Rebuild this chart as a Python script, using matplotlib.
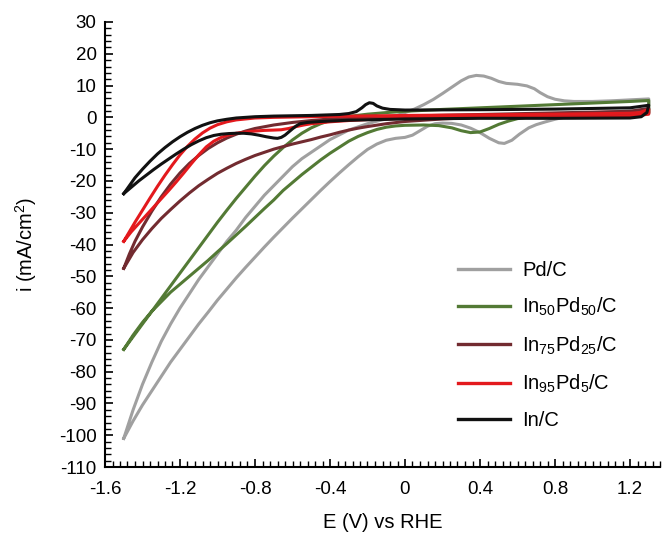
import matplotlib
matplotlib.use("Agg")
import matplotlib.pyplot as plt
from matplotlib.ticker import MultipleLocator, FixedLocator, FuncFormatter

plt.rcParams["font.family"] = ["Liberation Sans", "DejaVu Sans"]
plt.rcParams["mathtext.fontset"] = "custom"
plt.rcParams["mathtext.rm"] = "Liberation Sans"
plt.rcParams["mathtext.it"] = "Liberation Sans"
plt.rcParams["mathtext.default"] = "regular"

# ---- cyclic voltammograms: potential E (V vs RHE) and current density i (mA/cm2) ----
# Pd/C
pd_up_E = [-1.5, -1.45, -1.4, -1.35, -1.3, -1.25, -1.2, -1.15, -1.1, -1.05, -1.0, -0.95, -0.9,
           -0.85, -0.8, -0.75, -0.7, -0.65, -0.6, -0.55, -0.5, -0.45, -0.4, -0.35, -0.3, -0.25,
           -0.2, -0.15, -0.1, -0.05, 0.0, 0.05, 0.1, 0.15, 0.2, 0.25, 0.3, 0.34, 0.38, 0.42,
           0.46, 0.5, 0.54, 0.6, 0.65, 0.69, 0.72, 0.76, 0.8, 0.85, 0.9, 1.0, 1.1, 1.2, 1.3]
pd_up_i = [-101, -92, -84, -77, -70.5, -65, -60, -55.5, -51, -47, -43, -39, -35.5,
           -31.5, -28, -24.5, -21.5, -18.5, -15.5, -13, -11, -9, -7, -5.5, -4, -3,
           -2, -1.2, -0.5, 0.4, 1.5, 2.6, 4, 5.6, 7.5, 9.5, 11.5, 12.7, 13.2, 13,
           12.3, 11.3, 10.7, 10.4, 9.9, 9, 7.8, 6.5, 5.7, 5.2, 5.0, 5.0, 5.2, 5.5, 5.8]
pd_lo_E = [-1.5, -1.45, -1.4, -1.35, -1.3, -1.25, -1.2, -1.15, -1.1, -1.05, -1.0, -0.95, -0.9,
           -0.85, -0.8, -0.75, -0.7, -0.65, -0.6, -0.55, -0.5, -0.45, -0.4, -0.35, -0.3, -0.25,
           -0.2, -0.15, -0.1, -0.05, 0.0, 0.04, 0.08, 0.12, 0.16, 0.2, 0.25, 0.3, 0.35, 0.4,
           0.45, 0.5, 0.53, 0.57, 0.61, 0.66, 0.7, 0.75, 0.8, 0.86, 0.9, 1.0, 1.1, 1.2, 1.3]
pd_lo_i = [-101, -95.5, -90.5, -86, -81.5, -77, -73, -69, -65, -61.3, -57.5, -54, -50.5,
           -47.2, -44, -40.8, -37.7, -34.7, -31.7, -28.8, -25.9, -23, -20.2, -17.5, -14.9, -12.4,
           -10.1, -8.4, -7.2, -6.6, -6.3, -5.6, -4.2, -2.8, -2.0, -1.8, -1.9, -2.4, -3.4, -4.8,
           -6.6, -8.0, -8.2, -7.2, -5.3, -3.3, -2.3, -1.4, -0.6, 0.2, 0.8, 1.4, 1.7, 2.0, 2.5]

# In50Pd50/C
g_up_E = [-1.5, -1.45, -1.4, -1.35, -1.3, -1.25, -1.2, -1.15, -1.1, -1.05, -1.0, -0.95, -0.9,
          -0.85, -0.8, -0.75, -0.7, -0.65, -0.6, -0.55, -0.5, -0.45, -0.4, -0.35, -0.3, -0.2,
          -0.1, 0.0, 0.1, 0.2, 0.4, 0.6, 0.8, 1.0, 1.2, 1.3]
g_up_i = [-73, -69, -65, -61, -57, -53, -49, -45, -41, -37, -33, -29.2, -25.5,
          -22, -18.5, -15.2, -12.2, -9.5, -7.1, -5, -3.3, -2, -1, -0.3, 0.3, 1,
          1.5, 1.9, 2.2, 2.5, 3, 3.5, 4, 4.5, 5, 5.3]
g_lo_E = [-1.5, -1.45, -1.4, -1.35, -1.3, -1.25, -1.2, -1.15, -1.1, -1.05, -1.0, -0.95, -0.9,
          -0.85, -0.8, -0.75, -0.7, -0.65, -0.6, -0.55, -0.5, -0.45, -0.4, -0.35, -0.3, -0.25,
          -0.2, -0.15, -0.1, -0.05, 0.0, 0.1, 0.18, 0.25, 0.3, 0.35, 0.4, 0.45, 0.5, 0.55,
          0.6, 0.7, 0.8, 0.9, 1.1, 1.3]
g_lo_i = [-73, -68.5, -64.5, -61, -58, -55, -52.5, -50, -47.5, -45, -42.3, -39.7, -37,
          -34.3, -31.5, -28.7, -26, -23, -20.5, -18, -15.7, -13.4, -11.3, -9.4, -7.5, -6,
          -4.8, -3.8, -3.1, -2.7, -2.5, -2.4, -2.6, -3.3, -4.2, -4.8, -4.6, -3.5, -2.2, -1.2,
          -0.4, 0.4, 0.8, 1.0, 1.2, 1.5]

# In75Pd25/C
m_up_E = [-1.5, -1.47, -1.44, -1.4, -1.35, -1.3, -1.25, -1.2, -1.15, -1.1, -1.05, -1.0, -0.95,
          -0.9, -0.85, -0.8, -0.7, -0.6, -0.5, -0.4, -0.3, -0.2, 0.0, 0.4, 0.8, 1.2, 1.3]
m_up_i = [-47.5, -43, -39, -34.5, -29.5, -25, -21, -17.5, -14.5, -12, -9.8, -8, -6.5,
          -5.3, -4.3, -3.5, -2.4, -1.6, -1, -0.5, -0.2, 0, 0.4, 0.9, 1.4, 1.9, 2.8]
m_lo_E = [-1.5, -1.45, -1.4, -1.35, -1.3, -1.25, -1.2, -1.15, -1.1, -1.05, -1.0, -0.95, -0.9,
          -0.85, -0.8, -0.75, -0.7, -0.65, -0.6, -0.55, -0.5, -0.45, -0.4, -0.35, -0.3, -0.25,
          -0.2, -0.1, 0.0, 0.1, 0.2, 0.4, 0.8, 1.2, 1.3]
m_lo_i = [-47.5, -42.5, -38.5, -35, -31.8, -29, -26.3, -23.8, -21.5, -19.5, -17.6, -16, -14.5,
          -13.2, -12, -11, -10, -9.2, -8.4, -7.7, -7, -6.2, -5.5, -4.7, -4, -3.4,
          -2.9, -2, -1.3, -0.9, -0.5, 0, 0.5, 0.9, 1.2]

# In95Pd5/C
r_up_E = [-1.5, -1.47, -1.44, -1.4, -1.36, -1.32, -1.28, -1.24, -1.2, -1.16, -1.12, -1.08, -1.04,
          -1.0, -0.95, -0.9, -0.8, -0.7, -0.4, 0.0, 0.4, 0.8, 1.2, 1.25, 1.3]
r_up_i = [-39, -36, -33, -29.2, -25.4, -21.7, -18.2, -14.9, -11.8, -9.1, -6.8, -4.9, -3.4,
          -2.3, -1.4, -0.8, -0.2, 0, 0.3, 0.6, 0.8, 1.0, 1.3, 1.5, 2.5]
r_lo_E = [-1.5, -1.46, -1.42, -1.38, -1.34, -1.3, -1.26, -1.22, -1.18, -1.14, -1.1, -1.06, -1.02,
          -0.98, -0.94, -0.9, -0.85, -0.8, -0.75, -0.7, -0.66, -0.62, -0.58, -0.54, -0.5, -0.4,
          -0.3, -0.2, 0.0, 0.4, 0.8, 1.2, 1.3]
r_lo_i = [-39, -36, -33.4, -30.8, -28.2, -25.6, -23, -20.3, -17.5, -14.6, -11.8, -9.3, -7.5,
          -6.3, -5.5, -5.0, -4.6, -4.3, -4.1, -4.0, -3.9, -3.5, -2.9, -2.4, -2.0, -1.4,
          -1.0, -0.7, -0.3, 0, 0, 0.3, 1.0]

# In/C
k_up_E = [-1.5, -1.47, -1.44, -1.4, -1.36, -1.32, -1.28, -1.24, -1.2, -1.16, -1.12, -1.08, -1.04,
          -1.0, -0.95, -0.9, -0.8, -0.7, -0.5, -0.35, -0.3, -0.26, -0.23, -0.21, -0.19, -0.17,
          -0.15, -0.12, -0.08, 0.0, 0.4, 0.8, 1.2, 1.3]
k_up_i = [-24, -21.5, -19, -16.3, -13.8, -11.5, -9.5, -7.7, -6.1, -4.7, -3.5, -2.5, -1.7,
          -1.1, -0.6, -0.2, 0.2, 0.4, 0.6, 0.9, 1.2, 1.8, 3.0, 4.0, 4.6, 4.4,
          3.6, 2.9, 2.5, 2.3, 2.4, 2.6, 3.0, 3.8]
k_lo_E = [-1.5, -1.46, -1.42, -1.38, -1.34, -1.3, -1.26, -1.22, -1.18, -1.14, -1.1, -1.06, -1.02,
          -0.98, -0.94, -0.9, -0.86, -0.82, -0.78, -0.74, -0.7, -0.68, -0.66, -0.64, -0.62, -0.6,
          -0.58, -0.56, -0.52, -0.45, -0.3, 0.0, 0.4, 0.8, 1.2, 1.26, 1.29, 1.3]
k_lo_i = [-24, -22, -20, -18.2, -16.4, -14.7, -13.1, -11.5, -10.0, -8.6, -7.4, -6.4, -5.7,
          -5.3, -5.1, -5.0, -5.0, -5.2, -5.6, -6.1, -6.5, -6.6, -6.3, -5.6, -4.6, -3.6,
          -2.7, -2.0, -1.6, -1.3, -0.9, -0.5, -0.3, -0.3, -0.2, 0.2, 1.5, 3.8]

labels = ["Pd/C", "In$_{50}$Pd$_{50}$/C", "In$_{75}$Pd$_{25}$/C", "In$_{95}$Pd$_{5}$/C", "In/C"]
colors = ["#a0a0a0", "#537a35", "#722b30", "#e3191d", "#111111"]
curves = [
    (pd_up_E, pd_up_i, pd_lo_E, pd_lo_i),
    (g_up_E, g_up_i, g_lo_E, g_lo_i),
    (m_up_E, m_up_i, m_lo_E, m_lo_i),
    (r_up_E, r_up_i, r_lo_E, r_lo_i),
    (k_up_E, k_up_i, k_lo_E, k_lo_i),
]

fig = plt.figure(figsize=(6.64, 5.41), dpi=100)
ax = fig.add_axes([105 / 664, 74 / 541, 555 / 664, 445 / 541])

for (uE, ui, lE, li), c, lab in zip(curves, colors, labels):
    # closed loop: upper branch forward, lower branch back
    E = list(uE) + list(lE)[::-1]
    i = list(ui) + list(li)[::-1]
    ax.plot(E, i, color=c, lw=2.2, label=lab, solid_joinstyle="round")

ax.set_xlim(-1.6, 1.36)
ax.set_ylim(-110, 30)
ax.xaxis.set_major_locator(FixedLocator([-1.6, -1.2, -0.8, -0.4, 0, 0.4, 0.8, 1.2]))
ax.xaxis.set_minor_locator(MultipleLocator(0.04))
ax.yaxis.set_major_locator(MultipleLocator(10))
ax.yaxis.set_minor_locator(MultipleLocator(2))
ax.xaxis.set_major_formatter(FuncFormatter(lambda v, p: "0" if abs(v) < 1e-9 else f"{v:.1f}"))
ax.yaxis.set_major_formatter(FuncFormatter(lambda v, p: f"{int(round(v))}"))

for s in ["top", "right"]:
    ax.spines[s].set_visible(False)
for s in ["left", "bottom"]:
    ax.spines[s].set_linewidth(1.5)
ax.tick_params(which="major", direction="in", length=6, width=1.2, labelsize=13.5)
ax.tick_params(axis="x", which="major", pad=10)
ax.tick_params(axis="y", which="major", pad=6)
ax.tick_params(which="minor", direction="in", length=4, width=1.0)

ax.set_xlabel("E (V) vs RHE", fontsize=14.5, labelpad=11)
ax.set_ylabel("i (mA/cm$^{2}$)", fontsize=14.5, labelpad=14)

leg = ax.legend(loc="upper left", bbox_to_anchor=(0.636, 0.463), frameon=False,
                fontsize=14.5, handlelength=2.6, handletextpad=0.6, labelspacing=0.8,
                borderpad=0, borderaxespad=0)
for h in leg.get_lines():
    h.set_linewidth(2.4)

fig.savefig("out.png", dpi=100)
